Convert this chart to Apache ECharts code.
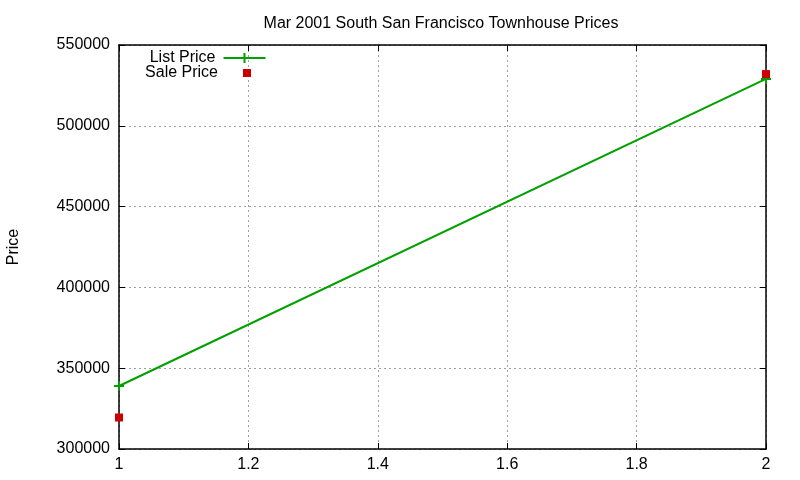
<!DOCTYPE html>
<html><head><meta charset="utf-8">
<script src="https://cdn.jsdelivr.net/npm/echarts@6/dist/echarts.min.js"></script>
<style>html,body{margin:0;padding:0;background:#fff}#c{width:800px;height:480px}</style>
</head><body><div id="c"></div>
<script>
const titleText = 'Mar 2001 South San Francisco Townhouse Prices';
const xValues = [1, 2];
const listPrice = [339000, 529000];
const salePrice = [319500, 532000];
const yTicks = [300000, 350000, 400000, 450000, 500000, 550000];
const xTicks = [1, 1.2, 1.4, 1.6, 1.8, 2];

const font = 'Liberation Sans, Arial, sans-serif';
const fs = 16;
const crossPath = 'path://M0,5L10,5M5,0L5,10';
const chart = echarts.init(document.getElementById('c'));
chart.setOption({
  animation: false,
  backgroundColor: '#fff',
  title: {text: titleText, left: 436, top: 11, textAlign: 'center',
    textStyle: {fontFamily: font, fontSize: fs, fontWeight: 'normal', color: '#000'}},
  grid: {left: 119, right: 34, top: 45, bottom: 31, outerBoundsMode: 'none', containLabel: false},
  legend: [{
    data: [{name: 'List Price', icon: 'path://M0,5L42,5M21,0L21,10'}],
    orient: 'vertical', align: 'right', right: 800 - 268, top: 50, padding: 0,
    itemWidth: 42, itemHeight: 10,
    textStyle: {fontFamily: font, fontSize: fs, color: '#000', padding: [0, 3, 0, 0]},
    itemStyle: {color: 'none', borderColor: '#00a000', borderWidth: 2}
  }, {
    data: [{name: 'Sale Price', icon: 'rect'}],
    orient: 'vertical', align: 'right', right: 800 - 251, top: 65, padding: 0,
    itemWidth: 8, itemHeight: 8,
    textStyle: {fontFamily: font, fontSize: fs, color: '#000', padding: [0, 20, 0, 0]},
    itemStyle: {color: '#cc0000', opacity: 1}
  }],
  xAxis: [{
    type: 'value', min: 1, max: 2, interval: 0.2,
    axisLine: {show: true, lineStyle: {color: '#000', width: 1.5}},
    axisTick: {show: true, inside: true, length: 6, lineStyle: {color: '#000'}},
    axisLabel: {fontFamily: font, fontSize: fs, color: '#000', margin: 8,
      formatter: v => String(+v.toFixed(1))},
    splitLine: {show: true, lineStyle: {color: '#a0a0a0', type: [2, 3], width: 1}}
  }, {
    type: 'value', position: 'top', min: 1, max: 2, interval: 0.2,
    axisLine: {show: true, lineStyle: {color: '#000', width: 1.5}},
    axisTick: {show: true, inside: true, length: 6, lineStyle: {color: '#000'}},
    axisLabel: {show: false}, splitLine: {show: false}
  }],
  yAxis: [{
    type: 'value', min: 300000, max: 550000, interval: 50000,
    name: 'Price', nameLocation: 'middle', nameGap: 97, nameRotate: 90,
    nameTextStyle: {fontFamily: font, fontSize: fs, color: '#000'},
    axisLine: {show: true, lineStyle: {color: '#000', width: 1.5}},
    axisTick: {show: true, inside: true, length: 6, lineStyle: {color: '#000'}},
    axisLabel: {fontFamily: font, fontSize: fs, color: '#000', margin: 9,
      formatter: v => String(v)},
    splitLine: {show: true, lineStyle: {color: '#a0a0a0', type: [2, 3], width: 1}}
  }, {
    type: 'value', position: 'right', min: 300000, max: 550000, interval: 50000,
    axisLine: {show: true, lineStyle: {color: '#000', width: 1.5}},
    axisTick: {show: true, inside: true, length: 6, lineStyle: {color: '#000'}},
    axisLabel: {show: false}, splitLine: {show: false}
  }],
  series: [{
    name: 'List Price', type: 'line',
    data: xValues.map((x, i) => [x, listPrice[i]]),
    symbol: crossPath, symbolSize: 10, showSymbol: true,
    lineStyle: {color: '#00a000', width: 2},
    itemStyle: {color: 'none', borderColor: '#00a000', borderWidth: 2},
    z: 3
  }, {
    name: 'Sale Price', type: 'scatter',
    data: xValues.map((x, i) => [x, salePrice[i]]),
    symbol: 'rect', symbolSize: 8,
    itemStyle: {color: '#cc0000', opacity: 1},
    z: 4
  }]
});
</script></body></html>
